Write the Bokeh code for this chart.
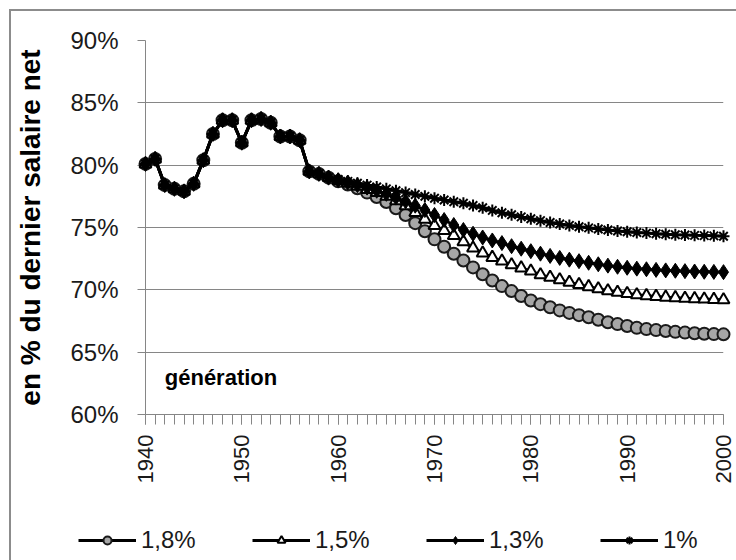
import math
from bokeh.plotting import figure
from bokeh.layouts import column
from bokeh.models import (Range1d, FixedTicker, PrintfTickFormatter, Legend,
                          LegendItem, Label)
from bokeh.embed import file_html
from bokeh.resources import INLINE

# ---------------- data ----------------
years = list(range(1940, 2001))
common_1940_1959 = [80.1, 80.5, 78.4, 78.1, 77.9, 78.5, 80.4, 82.5, 83.6, 83.6,
                    81.8, 83.6, 83.7, 83.4, 82.3, 82.3, 82.0, 79.5, 79.3, 79.0]
tail_18 = [78.7, 78.45, 78.15, 77.8, 77.45, 77.05, 76.55, 76.0, 75.35, 74.7,
           74.05, 73.45, 72.9, 72.35, 71.8, 71.25, 70.75, 70.3, 69.9, 69.5,
           69.15, 68.85, 68.6, 68.35, 68.15, 67.97, 67.8, 67.6, 67.4, 67.25,
           67.1, 66.95, 66.85, 66.77, 66.7, 66.63, 66.57, 66.52, 66.48, 66.45, 66.43]
tail_15 = [78.75, 78.55, 78.3, 78.05, 77.8, 77.5, 77.15, 76.75, 76.2, 75.65,
           75.15, 74.75, 74.35, 73.85, 73.35, 72.95, 72.6, 72.3, 72.0, 71.75,
           71.5, 71.2, 71.0, 70.8, 70.6, 70.42, 70.25, 70.08, 69.92, 69.8,
           69.7, 69.6, 69.53, 69.47, 69.41, 69.37, 69.32, 69.29, 69.26, 69.23, 69.2]
tail_13 = [78.8, 78.6, 78.4, 78.2, 77.95, 77.7, 77.4, 77.1, 76.75, 76.4,
           76.0, 75.6, 75.2, 74.8, 74.5, 74.2, 73.96, 73.75, 73.5, 73.3,
           73.1, 72.9, 72.72, 72.56, 72.42, 72.3, 72.17, 72.05, 71.94, 71.85,
           71.77, 71.7, 71.65, 71.6, 71.56, 71.53, 71.5, 71.47, 71.45, 71.44, 71.42]
tail_10 = [78.85, 78.7, 78.55, 78.4, 78.25, 78.1, 77.95, 77.8, 77.65, 77.5,
           77.35, 77.2, 77.07, 76.95, 76.77, 76.58, 76.37, 76.18, 76.02, 75.85,
           75.7, 75.55, 75.4, 75.28, 75.17, 75.06, 74.97, 74.88, 74.8, 74.72,
           74.66, 74.6, 74.55, 74.5, 74.46, 74.42, 74.4, 74.37, 74.35, 74.33, 74.3]
series_labels = ["1,8%", "1,5%", "1,3%", "1%"]
series_tails = [tail_18, tail_15, tail_13, tail_10]
y_ticks = [60, 65, 70, 75, 80, 85, 90]
x_label_years = [1940, 1950, 1960, 1970, 1980, 1990, 2000]
y_title = "en % du dernier salaire net"
note_text = "génération"
note_year, note_value = 1942.0, 63.0

# ---------------- style ----------------
FONT = "Liberation Sans"
GREY = "#868686"

p = figure(width=736, height=500,
           x_range=Range1d(1940, 2000), y_range=Range1d(60, 90),
           output_backend="svg", toolbar_location=None,
           min_border_left=145, min_border_right=13,
           min_border_top=40, min_border_bottom=86)
p.frame_align = False
p.outline_line_color = None
p.border_fill_color = None
p.styles = {"box-shadow": "inset 9px 9px 0 0 white, inset 11px 11px 0 0 #8c8c8c"}

p.xgrid.visible = False
p.ygrid.ticker = FixedTicker(ticks=y_ticks[1:])
p.ygrid.grid_line_color = GREY
p.ygrid.grid_line_width = 1

yax = p.yaxis[0]
yax.ticker = FixedTicker(ticks=y_ticks)
yax.formatter = PrintfTickFormatter(format="%d%%")
yax.axis_line_color = GREY
yax.major_tick_line_color = GREY
yax.major_tick_out = 8
yax.major_tick_in = 0
yax.minor_tick_line_color = None
yax.major_label_text_font = FONT
yax.major_label_text_font_size = "24px"
yax.major_label_text_color = "#1a1a1a"
yax.major_label_standoff = 19
yax.axis_label = y_title
yax.axis_label_text_font = FONT
yax.axis_label_text_font_style = "bold"
yax.axis_label_text_font_size = "28px"
yax.axis_label_text_color = "black"
yax.axis_label_standoff = 21

xax = p.xaxis[0]
xax.ticker = FixedTicker(ticks=x_label_years, minor_ticks=years)
xax.axis_line_color = GREY
xax.major_tick_line_color = GREY
xax.minor_tick_line_color = GREY
xax.major_tick_out = 10
xax.major_tick_in = 0
xax.minor_tick_out = 10
xax.minor_tick_in = 0
xax.major_label_orientation = math.pi / 2
xax.major_label_text_font = FONT
xax.major_label_text_font_size = "22px"
xax.major_label_text_color = "#1a1a1a"
xax.major_label_standoff = 10

marker_styles = [
    dict(marker="circle", size=12, fill_color="#a6a6a6", line_color="#1a1a1a", line_width=2),
    dict(marker="triangle", size=12, fill_color="white", line_color="black", line_width=2),
    dict(marker="diamond", size=15, fill_color="black", line_color="black", line_width=1),
    dict(marker="asterisk", size=12, fill_color="black", line_color="black", line_width=2),
]

# legend strip (separate canvas below the chart so the legend is not clipped)
pl = figure(width=736, height=60, x_range=Range1d(0, 1), y_range=Range1d(0, 1),
            output_backend="svg", toolbar_location=None,
            x_axis_location=None, y_axis_location=None,
            min_border_left=0, min_border_right=0,
            min_border_top=0, min_border_bottom=0)
pl.frame_align = False
pl.outline_line_color = None
pl.border_fill_color = None
pl.background_fill_color = None
pl.grid.visible = False
pl.styles = {"box-shadow": "inset 9px 0 0 0 white, inset 11px 0 0 0 #8c8c8c"}

items = []
for label, tail, ms in zip(series_labels, series_tails, marker_styles):
    vals = common_1940_1959 + tail
    p.line(years, vals, line_color="black", line_width=3, level="overlay")
    p.scatter(years, vals, level="overlay", **ms)
    # same series in the legend strip (outside its ranges, only the legend shows)
    lr = pl.line(years, vals, line_color="black", line_width=3)
    sr = pl.scatter(years, vals, **ms)
    items.append(LegendItem(label=label, renderers=[lr, sr]))

legend = Legend(items=items, orientation="horizontal", location=(78, 6),
                label_text_font=FONT, label_text_font_size="24px",
                label_text_color="#1a1a1a",
                glyph_width=58, glyph_height=20, label_standoff=5,
                label_width=111, label_height=20, spacing=0,
                padding=0, margin=0, border_line_color=None,
                background_fill_alpha=0)
pl.add_layout(legend, "center")

p.add_layout(Label(x=note_year, y=note_value, text=note_text,
                   text_font=FONT, text_font_style="bold",
                   text_font_size="22px", text_color="black",
                   text_baseline="middle", text_align="left"))

layout = column(p, pl, spacing=0)
open("out.html", "w").write(file_html(layout, INLINE))
